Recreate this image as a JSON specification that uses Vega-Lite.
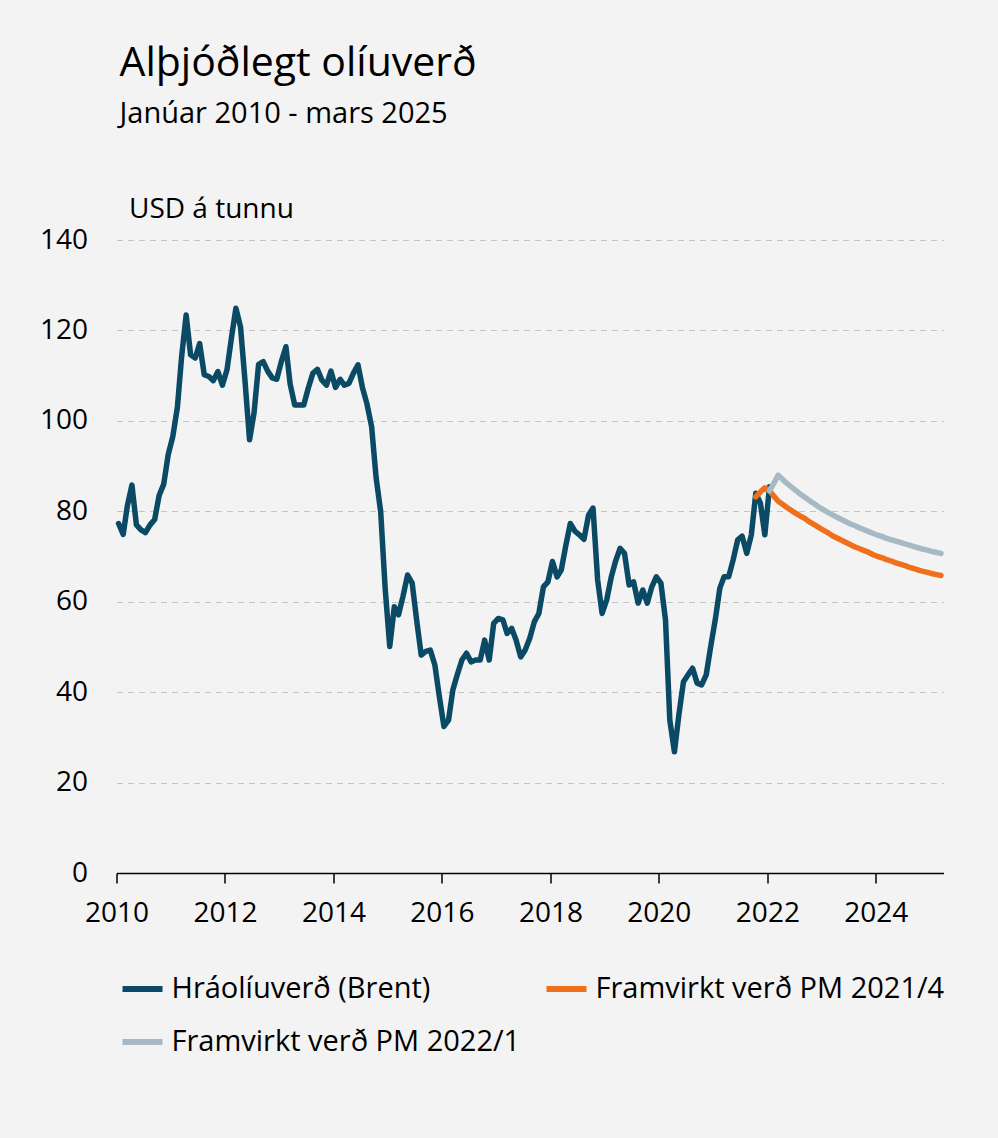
{
"$schema": "https://vega.github.io/schema/vega-lite/v6.json",
"autosize": {"type": "none"},
"width": 827,
"height": 633,
"padding": {"left": 116.5, "top": 240, "right": 54.5, "bottom": 265},
"background": "#f3f3f3",
"config": {"font": "Open Sans", "view": {"stroke": null}},
"title": {"text": "Alþjóðlegt olíuverð", "subtitle": "Janúar 2010 - mars 2025", "anchor": "start", "frame": "group", "offset": 65, "dx": 3, "fontSize": 41, "fontWeight": "normal", "color": "#000000", "subtitleFontSize": 29, "subtitleColor": "#000000", "subtitlePadding": 15},
"data": {"values": [
{"d":"2010-01-15","v":77.3,"s":"Hráolíuverð (Brent)"},
{"d":"2010-02-15","v":74.9,"s":"Hráolíuverð (Brent)"},
{"d":"2010-03-15","v":81.2,"s":"Hráolíuverð (Brent)"},
{"d":"2010-04-15","v":85.8,"s":"Hráolíuverð (Brent)"},
{"d":"2010-05-15","v":77.0,"s":"Hráolíuverð (Brent)"},
{"d":"2010-06-15","v":75.9,"s":"Hráolíuverð (Brent)"},
{"d":"2010-07-15","v":75.3,"s":"Hráolíuverð (Brent)"},
{"d":"2010-08-15","v":77.0,"s":"Hráolíuverð (Brent)"},
{"d":"2010-09-15","v":78.2,"s":"Hráolíuverð (Brent)"},
{"d":"2010-10-15","v":83.5,"s":"Hráolíuverð (Brent)"},
{"d":"2010-11-15","v":86.0,"s":"Hráolíuverð (Brent)"},
{"d":"2010-12-15","v":92.5,"s":"Hráolíuverð (Brent)"},
{"d":"2011-01-15","v":96.5,"s":"Hráolíuverð (Brent)"},
{"d":"2011-02-15","v":103.0,"s":"Hráolíuverð (Brent)"},
{"d":"2011-03-15","v":114.0,"s":"Hráolíuverð (Brent)"},
{"d":"2011-04-15","v":123.4,"s":"Hráolíuverð (Brent)"},
{"d":"2011-05-15","v":114.6,"s":"Hráolíuverð (Brent)"},
{"d":"2011-06-15","v":113.9,"s":"Hráolíuverð (Brent)"},
{"d":"2011-07-15","v":117.1,"s":"Hráolíuverð (Brent)"},
{"d":"2011-08-15","v":110.2,"s":"Hráolíuverð (Brent)"},
{"d":"2011-09-15","v":109.8,"s":"Hráolíuverð (Brent)"},
{"d":"2011-10-15","v":108.9,"s":"Hráolíuverð (Brent)"},
{"d":"2011-11-15","v":110.9,"s":"Hráolíuverð (Brent)"},
{"d":"2011-12-15","v":107.9,"s":"Hráolíuverð (Brent)"},
{"d":"2012-01-15","v":111.3,"s":"Hráolíuverð (Brent)"},
{"d":"2012-02-15","v":118.6,"s":"Hráolíuverð (Brent)"},
{"d":"2012-03-15","v":124.9,"s":"Hráolíuverð (Brent)"},
{"d":"2012-04-15","v":120.8,"s":"Hráolíuverð (Brent)"},
{"d":"2012-05-15","v":109.0,"s":"Hráolíuverð (Brent)"},
{"d":"2012-06-15","v":95.8,"s":"Hráolíuverð (Brent)"},
{"d":"2012-07-15","v":101.7,"s":"Hráolíuverð (Brent)"},
{"d":"2012-08-15","v":112.5,"s":"Hráolíuverð (Brent)"},
{"d":"2012-09-15","v":113.1,"s":"Hráolíuverð (Brent)"},
{"d":"2012-10-15","v":111.0,"s":"Hráolíuverð (Brent)"},
{"d":"2012-11-15","v":109.5,"s":"Hráolíuverð (Brent)"},
{"d":"2012-12-15","v":109.2,"s":"Hráolíuverð (Brent)"},
{"d":"2013-01-15","v":113.1,"s":"Hráolíuverð (Brent)"},
{"d":"2013-02-15","v":116.4,"s":"Hráolíuverð (Brent)"},
{"d":"2013-03-15","v":108.2,"s":"Hráolíuverð (Brent)"},
{"d":"2013-04-15","v":103.5,"s":"Hráolíuverð (Brent)"},
{"d":"2013-05-15","v":103.5,"s":"Hráolíuverð (Brent)"},
{"d":"2013-06-15","v":103.5,"s":"Hráolíuverð (Brent)"},
{"d":"2013-07-15","v":107.2,"s":"Hráolíuverð (Brent)"},
{"d":"2013-08-15","v":110.5,"s":"Hráolíuverð (Brent)"},
{"d":"2013-09-15","v":111.4,"s":"Hráolíuverð (Brent)"},
{"d":"2013-10-15","v":109.0,"s":"Hráolíuverð (Brent)"},
{"d":"2013-11-15","v":107.9,"s":"Hráolíuverð (Brent)"},
{"d":"2013-12-15","v":111.0,"s":"Hráolíuverð (Brent)"},
{"d":"2014-01-15","v":107.4,"s":"Hráolíuverð (Brent)"},
{"d":"2014-02-15","v":109.2,"s":"Hráolíuverð (Brent)"},
{"d":"2014-03-15","v":107.9,"s":"Hráolíuverð (Brent)"},
{"d":"2014-04-15","v":108.3,"s":"Hráolíuverð (Brent)"},
{"d":"2014-05-15","v":110.5,"s":"Hráolíuverð (Brent)"},
{"d":"2014-06-15","v":112.4,"s":"Hráolíuverð (Brent)"},
{"d":"2014-07-15","v":107.4,"s":"Hráolíuverð (Brent)"},
{"d":"2014-08-15","v":103.7,"s":"Hráolíuverð (Brent)"},
{"d":"2014-09-15","v":98.7,"s":"Hráolíuverð (Brent)"},
{"d":"2014-10-15","v":87.5,"s":"Hráolíuverð (Brent)"},
{"d":"2014-11-15","v":79.9,"s":"Hráolíuverð (Brent)"},
{"d":"2014-12-15","v":63.0,"s":"Hráolíuverð (Brent)"},
{"d":"2015-01-15","v":50.1,"s":"Hráolíuverð (Brent)"},
{"d":"2015-02-15","v":58.9,"s":"Hráolíuverð (Brent)"},
{"d":"2015-03-15","v":57.1,"s":"Hráolíuverð (Brent)"},
{"d":"2015-04-15","v":61.3,"s":"Hráolíuverð (Brent)"},
{"d":"2015-05-15","v":65.9,"s":"Hráolíuverð (Brent)"},
{"d":"2015-06-15","v":64.1,"s":"Hráolíuverð (Brent)"},
{"d":"2015-07-15","v":56.0,"s":"Hráolíuverð (Brent)"},
{"d":"2015-08-15","v":48.2,"s":"Hráolíuverð (Brent)"},
{"d":"2015-09-15","v":49.0,"s":"Hráolíuverð (Brent)"},
{"d":"2015-10-15","v":49.3,"s":"Hráolíuverð (Brent)"},
{"d":"2015-11-15","v":46.0,"s":"Hráolíuverð (Brent)"},
{"d":"2015-12-15","v":39.0,"s":"Hráolíuverð (Brent)"},
{"d":"2016-01-15","v":32.4,"s":"Hráolíuverð (Brent)"},
{"d":"2016-02-15","v":33.8,"s":"Hráolíuverð (Brent)"},
{"d":"2016-03-15","v":40.5,"s":"Hráolíuverð (Brent)"},
{"d":"2016-04-15","v":44.0,"s":"Hráolíuverð (Brent)"},
{"d":"2016-05-15","v":47.1,"s":"Hráolíuverð (Brent)"},
{"d":"2016-06-15","v":48.6,"s":"Hráolíuverð (Brent)"},
{"d":"2016-07-15","v":46.7,"s":"Hráolíuverð (Brent)"},
{"d":"2016-08-15","v":47.1,"s":"Hráolíuverð (Brent)"},
{"d":"2016-09-15","v":47.1,"s":"Hráolíuverð (Brent)"},
{"d":"2016-10-15","v":51.5,"s":"Hráolíuverð (Brent)"},
{"d":"2016-11-15","v":47.1,"s":"Hráolíuverð (Brent)"},
{"d":"2016-12-15","v":55.2,"s":"Hráolíuverð (Brent)"},
{"d":"2017-01-15","v":56.3,"s":"Hráolíuverð (Brent)"},
{"d":"2017-02-15","v":56.0,"s":"Hráolíuverð (Brent)"},
{"d":"2017-03-15","v":53.0,"s":"Hráolíuverð (Brent)"},
{"d":"2017-04-15","v":54.1,"s":"Hráolíuverð (Brent)"},
{"d":"2017-05-15","v":51.5,"s":"Hráolíuverð (Brent)"},
{"d":"2017-06-15","v":47.8,"s":"Hráolíuverð (Brent)"},
{"d":"2017-07-15","v":49.3,"s":"Hráolíuverð (Brent)"},
{"d":"2017-08-15","v":51.9,"s":"Hráolíuverð (Brent)"},
{"d":"2017-09-15","v":55.6,"s":"Hráolíuverð (Brent)"},
{"d":"2017-10-15","v":57.4,"s":"Hráolíuverð (Brent)"},
{"d":"2017-11-15","v":63.3,"s":"Hráolíuverð (Brent)"},
{"d":"2017-12-15","v":64.4,"s":"Hráolíuverð (Brent)"},
{"d":"2018-01-15","v":68.9,"s":"Hráolíuverð (Brent)"},
{"d":"2018-02-15","v":65.5,"s":"Hráolíuverð (Brent)"},
{"d":"2018-03-15","v":67.0,"s":"Hráolíuverð (Brent)"},
{"d":"2018-04-15","v":72.5,"s":"Hráolíuverð (Brent)"},
{"d":"2018-05-15","v":77.3,"s":"Hráolíuverð (Brent)"},
{"d":"2018-06-15","v":75.6,"s":"Hráolíuverð (Brent)"},
{"d":"2018-07-15","v":74.8,"s":"Hráolíuverð (Brent)"},
{"d":"2018-08-15","v":73.8,"s":"Hráolíuverð (Brent)"},
{"d":"2018-09-15","v":79.2,"s":"Hráolíuverð (Brent)"},
{"d":"2018-10-15","v":80.7,"s":"Hráolíuverð (Brent)"},
{"d":"2018-11-15","v":64.8,"s":"Hráolíuverð (Brent)"},
{"d":"2018-12-15","v":57.4,"s":"Hráolíuverð (Brent)"},
{"d":"2019-01-15","v":60.4,"s":"Hráolíuverð (Brent)"},
{"d":"2019-02-15","v":65.5,"s":"Hráolíuverð (Brent)"},
{"d":"2019-03-15","v":68.9,"s":"Hráolíuverð (Brent)"},
{"d":"2019-04-15","v":71.8,"s":"Hráolíuverð (Brent)"},
{"d":"2019-05-15","v":70.7,"s":"Hráolíuverð (Brent)"},
{"d":"2019-06-15","v":63.7,"s":"Hráolíuverð (Brent)"},
{"d":"2019-07-15","v":64.4,"s":"Hráolíuverð (Brent)"},
{"d":"2019-08-15","v":59.7,"s":"Hráolíuverð (Brent)"},
{"d":"2019-09-15","v":62.6,"s":"Hráolíuverð (Brent)"},
{"d":"2019-10-15","v":59.7,"s":"Hráolíuverð (Brent)"},
{"d":"2019-11-15","v":63.3,"s":"Hráolíuverð (Brent)"},
{"d":"2019-12-15","v":65.5,"s":"Hráolíuverð (Brent)"},
{"d":"2020-01-15","v":64.1,"s":"Hráolíuverð (Brent)"},
{"d":"2020-02-15","v":56.0,"s":"Hráolíuverð (Brent)"},
{"d":"2020-03-15","v":33.8,"s":"Hráolíuverð (Brent)"},
{"d":"2020-04-15","v":26.8,"s":"Hráolíuverð (Brent)"},
{"d":"2020-05-15","v":35.0,"s":"Hráolíuverð (Brent)"},
{"d":"2020-06-15","v":42.3,"s":"Hráolíuverð (Brent)"},
{"d":"2020-07-15","v":43.8,"s":"Hráolíuverð (Brent)"},
{"d":"2020-08-15","v":45.3,"s":"Hráolíuverð (Brent)"},
{"d":"2020-09-15","v":42.0,"s":"Hráolíuverð (Brent)"},
{"d":"2020-10-15","v":41.6,"s":"Hráolíuverð (Brent)"},
{"d":"2020-11-15","v":43.8,"s":"Hráolíuverð (Brent)"},
{"d":"2020-12-15","v":50.0,"s":"Hráolíuverð (Brent)"},
{"d":"2021-01-15","v":56.0,"s":"Hráolíuverð (Brent)"},
{"d":"2021-02-15","v":63.0,"s":"Hráolíuverð (Brent)"},
{"d":"2021-03-15","v":65.5,"s":"Hráolíuverð (Brent)"},
{"d":"2021-04-15","v":65.5,"s":"Hráolíuverð (Brent)"},
{"d":"2021-05-15","v":69.2,"s":"Hráolíuverð (Brent)"},
{"d":"2021-06-15","v":73.7,"s":"Hráolíuverð (Brent)"},
{"d":"2021-07-15","v":74.5,"s":"Hráolíuverð (Brent)"},
{"d":"2021-08-15","v":70.7,"s":"Hráolíuverð (Brent)"},
{"d":"2021-09-15","v":74.8,"s":"Hráolíuverð (Brent)"},
{"d":"2021-10-15","v":84.0,"s":"Hráolíuverð (Brent)"},
{"d":"2021-11-15","v":81.8,"s":"Hráolíuverð (Brent)"},
{"d":"2021-12-15","v":74.8,"s":"Hráolíuverð (Brent)"},
{"d":"2022-01-15","v":85.4,"s":"Hráolíuverð (Brent)"},
{"d":"2021-10-15","v":83.2,"s":"Framvirkt verð PM 2021/4"},
{"d":"2021-11-15","v":84.3,"s":"Framvirkt verð PM 2021/4"},
{"d":"2021-12-15","v":85.2,"s":"Framvirkt verð PM 2021/4"},
{"d":"2022-01-15","v":84.6,"s":"Framvirkt verð PM 2021/4"},
{"d":"2022-02-15","v":83.3,"s":"Framvirkt verð PM 2021/4"},
{"d":"2022-03-15","v":82.2,"s":"Framvirkt verð PM 2021/4"},
{"d":"2022-04-15","v":81.5,"s":"Framvirkt verð PM 2021/4"},
{"d":"2022-05-15","v":80.8,"s":"Framvirkt verð PM 2021/4"},
{"d":"2022-06-15","v":80.1,"s":"Framvirkt verð PM 2021/4"},
{"d":"2022-07-15","v":79.5,"s":"Framvirkt verð PM 2021/4"},
{"d":"2022-08-15","v":78.9,"s":"Framvirkt verð PM 2021/4"},
{"d":"2022-09-15","v":78.3,"s":"Framvirkt verð PM 2021/4"},
{"d":"2022-10-15","v":77.6,"s":"Framvirkt verð PM 2021/4"},
{"d":"2022-11-15","v":77.0,"s":"Framvirkt verð PM 2021/4"},
{"d":"2022-12-15","v":76.4,"s":"Framvirkt verð PM 2021/4"},
{"d":"2023-01-15","v":75.8,"s":"Framvirkt verð PM 2021/4"},
{"d":"2023-02-15","v":75.2,"s":"Framvirkt verð PM 2021/4"},
{"d":"2023-03-15","v":74.6,"s":"Framvirkt verð PM 2021/4"},
{"d":"2023-04-15","v":74.1,"s":"Framvirkt verð PM 2021/4"},
{"d":"2023-05-15","v":73.6,"s":"Framvirkt verð PM 2021/4"},
{"d":"2023-06-15","v":73.1,"s":"Framvirkt verð PM 2021/4"},
{"d":"2023-07-15","v":72.6,"s":"Framvirkt verð PM 2021/4"},
{"d":"2023-08-15","v":72.1,"s":"Framvirkt verð PM 2021/4"},
{"d":"2023-09-15","v":71.7,"s":"Framvirkt verð PM 2021/4"},
{"d":"2023-10-15","v":71.3,"s":"Framvirkt verð PM 2021/4"},
{"d":"2023-11-15","v":70.9,"s":"Framvirkt verð PM 2021/4"},
{"d":"2023-12-15","v":70.4,"s":"Framvirkt verð PM 2021/4"},
{"d":"2024-01-15","v":70.0,"s":"Framvirkt verð PM 2021/4"},
{"d":"2024-02-15","v":69.7,"s":"Framvirkt verð PM 2021/4"},
{"d":"2024-03-15","v":69.3,"s":"Framvirkt verð PM 2021/4"},
{"d":"2024-04-15","v":69.0,"s":"Framvirkt verð PM 2021/4"},
{"d":"2024-05-15","v":68.6,"s":"Framvirkt verð PM 2021/4"},
{"d":"2024-06-15","v":68.3,"s":"Framvirkt verð PM 2021/4"},
{"d":"2024-07-15","v":68.0,"s":"Framvirkt verð PM 2021/4"},
{"d":"2024-08-15","v":67.6,"s":"Framvirkt verð PM 2021/4"},
{"d":"2024-09-15","v":67.3,"s":"Framvirkt verð PM 2021/4"},
{"d":"2024-10-15","v":67.0,"s":"Framvirkt verð PM 2021/4"},
{"d":"2024-11-15","v":66.7,"s":"Framvirkt verð PM 2021/4"},
{"d":"2024-12-15","v":66.5,"s":"Framvirkt verð PM 2021/4"},
{"d":"2025-01-15","v":66.2,"s":"Framvirkt verð PM 2021/4"},
{"d":"2025-02-15","v":66.0,"s":"Framvirkt verð PM 2021/4"},
{"d":"2025-03-15","v":65.8,"s":"Framvirkt verð PM 2021/4"},
{"d":"2022-01-15","v":84.5,"s":"Framvirkt verð PM 2022/1"},
{"d":"2022-02-15","v":86.3,"s":"Framvirkt verð PM 2022/1"},
{"d":"2022-03-15","v":88.0,"s":"Framvirkt verð PM 2022/1"},
{"d":"2022-04-15","v":87.0,"s":"Framvirkt verð PM 2022/1"},
{"d":"2022-05-15","v":86.1,"s":"Framvirkt verð PM 2022/1"},
{"d":"2022-06-15","v":85.3,"s":"Framvirkt verð PM 2022/1"},
{"d":"2022-07-15","v":84.5,"s":"Framvirkt verð PM 2022/1"},
{"d":"2022-08-15","v":83.7,"s":"Framvirkt verð PM 2022/1"},
{"d":"2022-09-15","v":83.0,"s":"Framvirkt verð PM 2022/1"},
{"d":"2022-10-15","v":82.3,"s":"Framvirkt verð PM 2022/1"},
{"d":"2022-11-15","v":81.6,"s":"Framvirkt verð PM 2022/1"},
{"d":"2022-12-15","v":80.9,"s":"Framvirkt verð PM 2022/1"},
{"d":"2023-01-15","v":80.3,"s":"Framvirkt verð PM 2022/1"},
{"d":"2023-02-15","v":79.7,"s":"Framvirkt verð PM 2022/1"},
{"d":"2023-03-15","v":79.2,"s":"Framvirkt verð PM 2022/1"},
{"d":"2023-04-15","v":78.7,"s":"Framvirkt verð PM 2022/1"},
{"d":"2023-05-15","v":78.2,"s":"Framvirkt verð PM 2022/1"},
{"d":"2023-06-15","v":77.7,"s":"Framvirkt verð PM 2022/1"},
{"d":"2023-07-15","v":77.2,"s":"Framvirkt verð PM 2022/1"},
{"d":"2023-08-15","v":76.8,"s":"Framvirkt verð PM 2022/1"},
{"d":"2023-09-15","v":76.3,"s":"Framvirkt verð PM 2022/1"},
{"d":"2023-10-15","v":75.9,"s":"Framvirkt verð PM 2022/1"},
{"d":"2023-11-15","v":75.5,"s":"Framvirkt verð PM 2022/1"},
{"d":"2023-12-15","v":75.1,"s":"Framvirkt verð PM 2022/1"},
{"d":"2024-01-15","v":74.7,"s":"Framvirkt verð PM 2022/1"},
{"d":"2024-02-15","v":74.4,"s":"Framvirkt verð PM 2022/1"},
{"d":"2024-03-15","v":74.0,"s":"Framvirkt verð PM 2022/1"},
{"d":"2024-04-15","v":73.7,"s":"Framvirkt verð PM 2022/1"},
{"d":"2024-05-15","v":73.4,"s":"Framvirkt verð PM 2022/1"},
{"d":"2024-06-15","v":73.1,"s":"Framvirkt verð PM 2022/1"},
{"d":"2024-07-15","v":72.8,"s":"Framvirkt verð PM 2022/1"},
{"d":"2024-08-15","v":72.5,"s":"Framvirkt verð PM 2022/1"},
{"d":"2024-09-15","v":72.2,"s":"Framvirkt verð PM 2022/1"},
{"d":"2024-10-15","v":71.9,"s":"Framvirkt verð PM 2022/1"},
{"d":"2024-11-15","v":71.6,"s":"Framvirkt verð PM 2022/1"},
{"d":"2024-12-15","v":71.4,"s":"Framvirkt verð PM 2022/1"},
{"d":"2025-01-15","v":71.1,"s":"Framvirkt verð PM 2022/1"},
{"d":"2025-02-15","v":70.9,"s":"Framvirkt verð PM 2022/1"},
{"d":"2025-03-15","v":70.7,"s":"Framvirkt verð PM 2022/1"}
]},
"mark": {"type": "line", "strokeWidth": 5.5, "strokeCap": "round", "strokeJoin": "round"},
"encoding": {
"x": {"field": "d", "type": "temporal", "title": null,
 "scale": {"domain": [{"year": 2010, "month": 1, "date": 1}, {"year": 2025, "month": 4, "date": 1}], "nice": false},
 "axis": {"values": [{"year": 2010, "month": 1, "date": 1}, {"year": 2012, "month": 1, "date": 1}, {"year": 2014, "month": 1, "date": 1}, {"year": 2016, "month": 1, "date": 1}, {"year": 2018, "month": 1, "date": 1}, {"year": 2020, "month": 1, "date": 1}, {"year": 2022, "month": 1, "date": 1}, {"year": 2024, "month": 1, "date": 1}],
  "format": "%Y", "grid": false, "domainColor": "#000000", "domainWidth": 1.5, "tickColor": "#000000", "tickWidth": 1.5, "tickSize": 10, "labelFontSize": 28, "labelColor": "#000000", "labelPadding": 16, "labelFlush": false}},
"y": {"field": "v", "type": "quantitative",
 "scale": {"domain": [0, 140], "nice": false, "zero": true},
 "axis": {"values": [0, 20, 40, 60, 80, 100, 120, 140], "title": "USD á tunnu", "titleAngle": 0, "titleAlign": "left", "titleBaseline": "alphabetic", "titleX": 12, "titleY": -23, "titleFontSize": 28, "titleFontWeight": "normal", "titleColor": "#000000",
  "domain": false, "ticks": false, "labelPadding": 29, "labelFontSize": 28, "labelColor": "#000000", "grid": true, "gridColor": "#c4c4c4", "gridDash": [6, 5], "gridWidth": 1}},
"color": {"field": "s", "type": "nominal",
 "scale": {"domain": ["Hráolíuverð (Brent)", "Framvirkt verð PM 2021/4", "Framvirkt verð PM 2022/1"], "range": ["#0b4a64", "#ef6f1b", "#a6b9c5"]},
 "legend": {"title": null, "orient": "none", "direction": "horizontal", "legendX": 3, "legendY": 726, "columns": 2, "columnPadding": 14, "rowPadding": 15, "padding": 0, "symbolType": "stroke", "symbolSize": 1600, "symbolStrokeWidth": 6, "labelFontSize": 29, "labelColor": "#000000", "labelOffset": 6, "labelLimit": 0}}
}
}
